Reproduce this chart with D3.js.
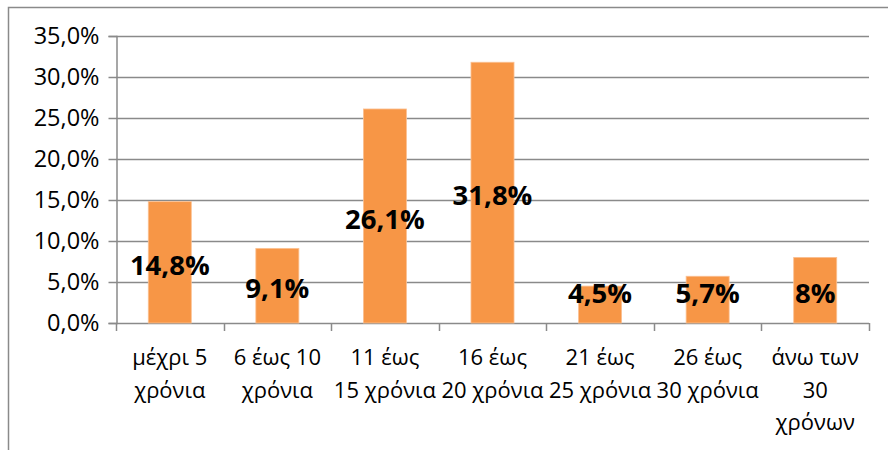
<!DOCTYPE html>
<html>
<head>
<meta charset="utf-8">
<script src="https://cdn.jsdelivr.net/npm/d3@7"></script>
<style>
  html, body { margin: 0; padding: 0; background: #fff; }
  svg { display: block; }
</style>
</head>
<body>
<svg id="chart" width="888" height="450"></svg>
<script>
// Years-of-service groups and their share of respondents (%)
const categories = [
  ["μέχρι 5", "χρόνια"],
  ["6 έως 10", "χρόνια"],
  ["11 έως", "15 χρόνια"],
  ["16 έως", "20 χρόνια"],
  ["21 έως", "25 χρόνια"],
  ["26 έως", "30 χρόνια"],
  ["άνω των", "30", "χρόνων"]
];
const values = [14.8, 9.1, 26.1, 31.8, 4.5, 5.7, 8];
const valueLabels = ["14,8%", "9,1%", "26,1%", "31,8%", "4,5%", "5,7%", "8%"];
const yTicks = [0, 5, 10, 15, 20, 25, 30, 35];

const svg = d3.select("#chart");
const W = 888, H = 450;
const plot = { left: 116, right: 869, top: 36, bottom: 323 };
const font = "'Open Sans', 'Noto Sans', sans-serif";
const grey = "#8a8a8a";

// Outer chart frame
svg.append("rect")
  .attr("x", 8.5).attr("y", 7.5)
  .attr("width", W + 10).attr("height", H + 10)
  .attr("fill", "#fff").attr("stroke", grey).attr("stroke-width", 1.5);

const x = d3.scaleBand()
  .domain(d3.range(categories.length))
  .range([plot.left, plot.right])
  .paddingInner(0.6).paddingOuter(0.3);

const y = d3.scaleLinear().domain([0, 35]).range([plot.bottom, plot.top]);

// Horizontal gridlines
svg.append("g")
  .selectAll("line")
  .data(yTicks.filter(t => t > 0))
  .join("line")
  .attr("x1", plot.left).attr("x2", plot.right)
  .attr("y1", d => Math.round(y(d)) + 0.5).attr("y2", d => Math.round(y(d)) + 0.5)
  .attr("stroke", grey).attr("stroke-width", 1.5);

// Y axis with percentage ticks
const yAxis = d3.axisLeft(y)
  .tickValues(yTicks)
  .tickSize(8)
  .tickPadding(9)
  .tickFormat(d => d3.format(".1f")(d).replace(".", ",") + "%");
const gy = svg.append("g")
  .attr("transform", `translate(${plot.left + 0.5},0)`)
  .call(yAxis);
gy.select(".domain").attr("stroke", grey).attr("stroke-width", 1.5);
gy.selectAll(".tick line").attr("stroke", grey).attr("stroke-width", 1.5);
gy.selectAll(".tick text")
  .attr("font-family", font).attr("font-size", 23.5).attr("fill", "#000");

// X axis: ticks between categories
const bounds = d3.range(categories.length + 1).map(i => plot.left + i * (plot.right - plot.left) / categories.length);
const gx = svg.append("g");
gx.append("line")
  .attr("x1", plot.left).attr("x2", plot.right)
  .attr("y1", plot.bottom + 0.5).attr("y2", plot.bottom + 0.5)
  .attr("stroke", grey).attr("stroke-width", 1.5);
gx.selectAll("line.tk")
  .data(bounds)
  .join("line")
  .attr("class", "tk")
  .attr("x1", d => Math.round(d) + 0.5).attr("x2", d => Math.round(d) + 0.5)
  .attr("y1", plot.bottom).attr("y2", plot.bottom + 8)
  .attr("stroke", grey).attr("stroke-width", 1.5);

// Category labels (multi-line)
const catG = svg.append("g");
categories.forEach((lines, i) => {
  const cx = x(i) + x.bandwidth() / 2;
  const t = catG.append("text")
    .attr("x", cx).attr("y", 365)
    .attr("text-anchor", "middle")
    .attr("font-family", font).attr("font-size", 22).attr("fill", "#000");
  lines.forEach((ln, j) => {
    t.append("tspan").attr("x", cx).attr("dy", j === 0 ? 0 : 32.5).text(ln);
  });
});

// Bars
svg.append("g")
  .selectAll("rect")
  .data(values)
  .join("rect")
  .attr("x", (d, i) => x(i))
  .attr("y", d => y(d))
  .attr("width", x.bandwidth())
  .attr("height", d => y(0) - y(d))
  .attr("fill", "#F79646")
  .attr("stroke", "#fbc092").attr("stroke-width", 0.8);

// Value labels, centred in the bar (kept above the axis for short bars)
svg.append("g")
  .selectAll("text")
  .data(values)
  .join("text")
  .attr("x", (d, i) => x(i) + x.bandwidth() / 2)
  .attr("y", d => y(Math.max(d / 2, 4)) + 3)
  .attr("dy", "0.35em")
  .attr("text-anchor", "middle")
  .attr("font-family", font).attr("font-weight", "bold").attr("font-size", 27.5)
  .attr("fill", "#000")
  .text((d, i) => valueLabels[i]);
</script>
</body>
</html>
